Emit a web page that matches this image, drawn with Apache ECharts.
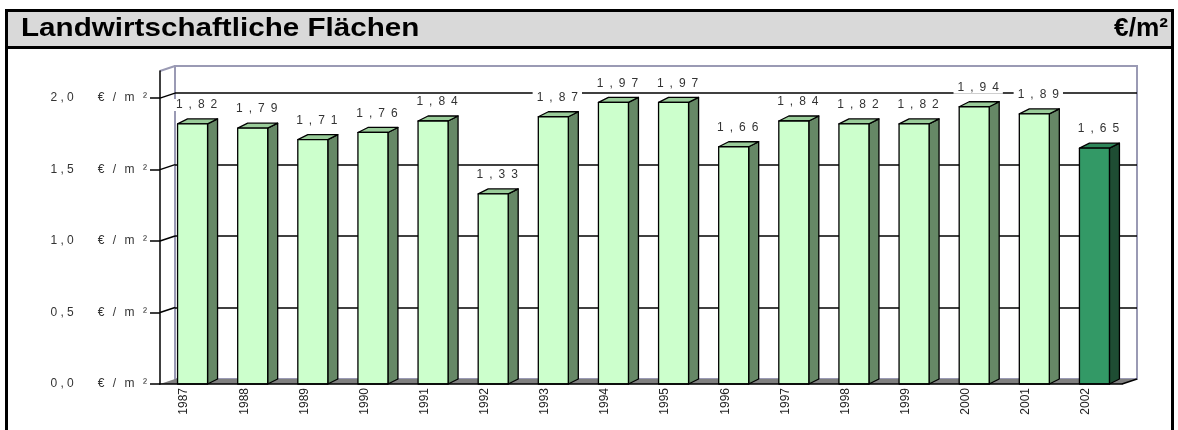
<!DOCTYPE html>
<html>
<head>
<meta charset="utf-8">
<script src="https://cdn.jsdelivr.net/npm/echarts@6/dist/echarts.min.js"></script>
<style>
  html, body { margin: 0; padding: 0; background: #fff; }
  #chart { width: 1178px; height: 430px; }
</style>
</head>
<body>
<div id="chart"></div>
<script>
// Average price per square metre of agricultural land, by year
const years = ['1987', '1988', '1989', '1990', '1991', '1992', '1993', '1994',
               '1995', '1996', '1997', '1998', '1999', '2000', '2001', '2002'];
const prices = [1.82, 1.79, 1.71, 1.76, 1.84, 1.33, 1.87, 1.97,
                1.97, 1.66, 1.84, 1.82, 1.82, 1.94, 1.89, 1.65];
const yTicks = [0, 0.5, 1.0, 1.5, 2.0];
const yMax = 2.19;
const currentYear = '2002';
const titleText = 'Landwirtschaftliche Flächen';
const unitText = '€/m²';

// 3D look: depth offset of the back wall and of each column
const WALL_DX = 15, WALL_DY = -5;
const BAR_W = 30, BAR_OFF = -12.5, BAR_DX = 10, BAR_DY = -5;

const FONT = 'Arial, "Liberation Sans", sans-serif';

function spaced(str, sep) { return str.split('').join(sep); }
function yLabel(v) {
  return spaced(v.toFixed(1).replace('.', ','), ' ') +
         '\u2003\u2003' + spaced('€/m²', '\u2002\u2009');
}
function valueLabel(v) { return spaced(v.toFixed(2).replace('.', ','), '\u2002'); }

const palette = {
  normal:  { front: '#ccffcc', side: '#668866', top: '#99cc99' },
  current: { front: '#339966', side: '#1e4d33', top: '#2d8659' }
};

const chart = echarts.init(document.getElementById('chart'), null, { renderer: 'canvas' });

const headFont = 'bold 25px ' + FONT;

chart.setOption({
  animation: false,
  backgroundColor: '#fff',
  graphic: [
    // header bar and outer frame
    { type: 'rect', z: 0, shape: { x: 6.5, y: 10.5, width: 1166, height: 37 },
      style: { fill: '#d9d9d9', stroke: '#000', lineWidth: 3 } },
    { type: 'rect', z: 0, shape: { x: 6.5, y: 10.5, width: 1166, height: 440 },
      style: { fill: 'none', stroke: '#000', lineWidth: 3 } },
    { type: 'text', z: 5, x: 21, y: 29, scaleX: 1.185,
      style: { text: titleText, font: headFont, fill: '#000',
               align: 'left', verticalAlign: 'middle' } },
    { type: 'text', z: 5, x: 1168, y: 29, scaleX: 1.05,
      style: { text: unitText, font: headFont, fill: '#000',
               align: 'right', verticalAlign: 'middle' } }
  ],
  grid: [
    // front plane: axes and columns
    { left: 160, right: 56, top: 71, bottom: 46 },
    // back wall with gridlines
    { left: 160 + WALL_DX, right: 56 - WALL_DX, top: 71 + WALL_DY, bottom: 46 - WALL_DY,
      show: true, backgroundColor: '#fff', borderColor: '#9a9ab4', borderWidth: 2 }
  ],
  xAxis: [
    { type: 'category', gridIndex: 0, data: years, z: 4,
      axisLine: { show: true, lineStyle: { color: '#000', width: 1.5 } },
      axisTick: { show: false },
      axisLabel: { interval: 0, rotate: 90, margin: 4, verticalAlign: 'bottom',
                   fontFamily: FONT, fontSize: 12, color: '#222' },
      splitLine: { show: false } },
    { type: 'category', gridIndex: 1, data: years, show: false }
  ],
  yAxis: [
    { type: 'value', gridIndex: 0, min: 0, max: yMax, interval: 0.5, z: 4,
      axisLine: { show: true, lineStyle: { color: '#000', width: 1.5 } },
      axisTick: { show: true, inside: false, length: 10, customValues: yTicks,
                  lineStyle: { color: '#000', width: 1.5 } },
      axisLabel: { customValues: yTicks, margin: 13, formatter: yLabel,
                   fontFamily: FONT, fontSize: 12, color: '#333' },
      splitLine: { show: false } },
    { type: 'value', gridIndex: 1, min: 0, max: yMax, interval: 0.5,
      axisLine: { show: false }, axisTick: { show: false }, axisLabel: { show: false },
      splitLine: { show: true, showMinLine: false, showMaxLine: false,
                   lineStyle: { color: '#000', width: 1.6 } } }
  ],
  series: [
    // floor and left side wall
    {
      type: 'custom', xAxisIndex: 0, yAxisIndex: 0, z: 1, silent: true,
      data: [[0]],
      renderItem: function (params, api) {
        const bw = api.size([1, 0])[0];
        const first = api.coord([0, 0]);
        const last = api.coord([years.length - 1, 0]);
        const x0 = first[0] - bw / 2, x1 = last[0] + bw / 2, y0 = first[1];
        const children = [{
          type: 'polygon',
          shape: { points: [[x0, y0], [x1, y0], [x1 + WALL_DX, y0 + WALL_DY], [x0 + WALL_DX, y0 + WALL_DY]] },
          style: { fill: '#808080', stroke: null }
        }, {
          type: 'line',
          shape: { x1: x1, y1: y0, x2: x1 + WALL_DX, y2: y0 + WALL_DY },
          style: { stroke: '#000', lineWidth: 1.5 }
        }];
        yTicks.filter(function (v) { return v > 0; }).forEach(function (v) {
          const y = api.coord([0, v])[1];
          children.push({ type: 'line',
            shape: { x1: x0, y1: y, x2: x0 + WALL_DX, y2: y + WALL_DY },
            style: { stroke: '#000', lineWidth: 1.5 } });
        });
        const yt = api.coord([0, yMax])[1];
        children.push({ type: 'line',
          shape: { x1: x0, y1: yt, x2: x0 + WALL_DX, y2: yt + WALL_DY },
          style: { stroke: '#9a9ab4', lineWidth: 2 } });
        return { type: 'group', children: children };
      }
    },
    // 3D columns with value labels
    {
      type: 'custom', xAxisIndex: 0, yAxisIndex: 0, z: 3,
      data: prices.map(function (p, i) { return [i, p]; }),
      renderItem: function (params, api) {
        const i = api.value(0), v = api.value(1);
        const top = api.coord([i, v]);
        const base = api.coord([i, 0]);
        const c = years[i] === currentYear ? palette.current : palette.normal;
        const fx = top[0] + BAR_OFF, fy = top[1], by = base[1];
        const rx = fx + BAR_W;
        const stroke = { stroke: '#000', lineWidth: 1.3, lineJoin: 'round' };
        return {
          type: 'group',
          children: [
            { type: 'polygon',
              shape: { points: [[rx, fy], [rx + BAR_DX, fy + BAR_DY], [rx + BAR_DX, by + BAR_DY], [rx, by]] },
              style: Object.assign({ fill: c.side }, stroke) },
            { type: 'polygon',
              shape: { points: [[fx, fy], [fx + BAR_DX, fy + BAR_DY], [rx + BAR_DX, fy + BAR_DY], [rx, fy]] },
              style: Object.assign({ fill: c.top }, stroke) },
            { type: 'rect',
              shape: { x: fx, y: fy, width: BAR_W, height: by - fy },
              style: Object.assign({ fill: c.front }, stroke) },
            { type: 'text', z2: 10,
              x: fx + BAR_W / 2 + 4, y: fy - 19,
              style: { text: valueLabel(v), font: '12px ' + FONT, fill: '#333',
                       align: 'center', verticalAlign: 'middle',
                       backgroundColor: '#fff', padding: [0, 4] } }
          ]
        };
      }
    }
  ]
});
</script>
</body>
</html>
